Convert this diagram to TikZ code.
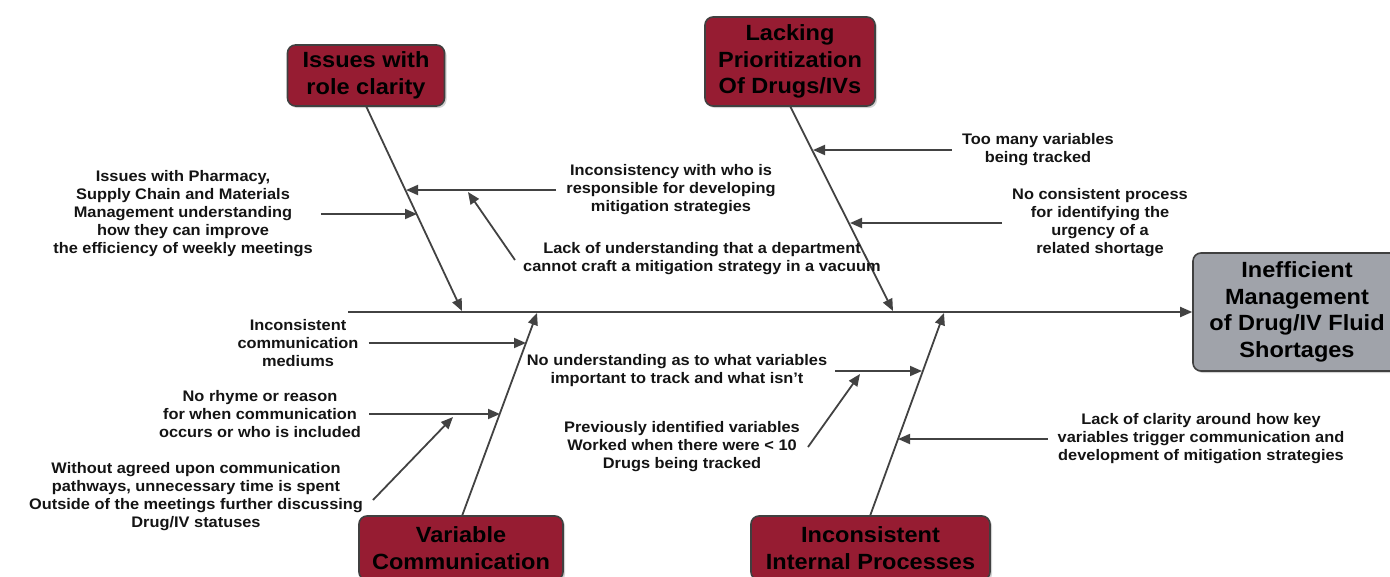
\documentclass[tikz,border=0pt]{standalone}
\usepackage{fontspec}
\setmainfont{Liberation Sans}[FakeStretch=1.07]
\usetikzlibrary{arrows.meta,shadows}
\definecolor{causered}{RGB}{150,28,50}
\definecolor{effgrey}{RGB}{160,163,170}
\definecolor{linegrey}{RGB}{66,66,66}
\definecolor{txt}{RGB}{20,20,20}
\begin{document}
\begin{tikzpicture}[x=1pt,y=-1pt,
  causebox/.style={draw=black!75, line width=1.6pt, rounded corners=8pt, fill=causered,
    drop shadow={shadow xshift=2pt,shadow yshift=-2pt,opacity=0.35},
    align=center, text=black, font=\bfseries\fontsize{22}{26.5}\selectfont, inner sep=0pt},
  effbox/.style={causebox, fill=effgrey},
  lbl/.style={align=center, text=txt, font=\bfseries\fontsize{15.3}{18}\selectfont, inner sep=0pt},
  arr/.style={draw=linegrey, line width=1.8pt, -{Triangle[length=12pt,width=10pt]}}
]
\useasboundingbox (0,0) rectangle (1390,576);

% effect and causes
\node[effbox, minimum width=208pt, minimum height=118pt] (eff) at (1297,312)
  {Inefficient\\Management\\of Drug/IV Fluid\\Shortages};
\node[causebox, minimum width=157pt, minimum height=61pt] (c1) at (366,75.5)
  {Issues with\\role clarity};
\node[causebox, minimum width=170pt, minimum height=89pt] (c2) at (790,61.5)
  {Lacking\\Prioritization\\Of Drugs/IVs};
\node[causebox, minimum width=204pt, minimum height=64pt] (c3) at (461,548)
  {Variable\\Communication};
\node[causebox, minimum width=239pt, minimum height=64pt] (c4) at (870.5,548)
  {Inconsistent\\Internal Processes};

% spine
\coordinate (tail) at (348,312);
\draw[arr] (tail) -- (eff.west);

% bone end points on the spine
\coordinate (s1) at (462,311);
\coordinate (s2) at (893,311);
\coordinate (s3) at (537,313);
\coordinate (s4) at (944,313);
\coordinate (o1) at (366,106);
\coordinate (o2) at (790,106);
\coordinate (o3) at (462,516);
\coordinate (o4) at (870,516);
\draw[arr] (o1) -- (s1);
\draw[arr] (o2) -- (s2);
\draw[arr] (o3) -- (s3);
\draw[arr] (o4) -- (s4);

% labels
\node[lbl] (tpharm) at (183,214) {Issues with Pharmacy,\\Supply Chain and Materials\\Management understanding\\how they can improve\\the efficiency of weekly meetings};
\node[lbl] (tincons) at (671,190) {Inconsistency with who is\\responsible for developing\\mitigation strategies};
\node[lbl] (tlack) at (702,259) {Lack of understanding that a department\\cannot craft a mitigation strategy in a vacuum};
\node[lbl] (ttoomany) at (1038,150) {Too many variables\\being tracked};
\node[lbl] (tnocons) at (1100,223) {No consistent process\\for identifying the\\urgency of a\\related shortage};
\node[lbl] (tmedium) at (298,343) {Inconsistent\\communication\\mediums};
\node[lbl] (trhyme) at (260,414) {No rhyme or reason\\for when communication\\occurs or who is included};
\node[lbl] (twithout) at (196,497) {Without agreed upon communication\\pathways, unnecessary time is spent\\Outside of the meetings further discussing\\Drug/IV statuses};
\node[lbl] (tnounder) at (677,371) {No understanding as to what variables\\important to track and what isn't};
\node[lbl] (tprev) at (682,447) {Previously identified variables\\Worked when there were < 10\\Drugs being tracked};
\node[lbl] (tclarity) at (1201,439) {Lack of clarity around how key\\variables trigger communication and\\development of mitigation strategies};

% sub-cause targets on bones
\coordinate (p1) at (406,190);
\coordinate (p2) at (417,214);
\coordinate (p3) at (813,150);
\coordinate (p4) at (850,223);
\coordinate (p5) at (526,343);
\coordinate (p6) at (500,414);
\coordinate (p7) at (922,371);
\coordinate (p8) at (898,439);

\draw[arr] ([xshift=-10pt]tincons.west) -- (p1);
\draw[arr] ([xshift=8pt]tpharm.east) -- (p2);
\draw[arr] ([xshift=-10pt]ttoomany.west) -- (p3);
\draw[arr] ([xshift=-10pt]tnocons.west) -- (p4);
\draw[arr] ([xshift=10pt]tmedium.east) -- (p5);
\draw[arr] ([xshift=8pt]trhyme.east) -- (p6);
\draw[arr] ([xshift=8pt]tnounder.east) -- (p7);
\draw[arr] ([xshift=-10pt]tclarity.west) -- (p8);

% diagonal sub-sub arrows
\coordinate (d1s) at (515,260);
\coordinate (d1e) at (468,192);
\coordinate (d2s) at (373,500);
\coordinate (d2e) at (453,417);
\coordinate (d3s) at (808,447);
\coordinate (d3e) at (860,374);
\draw[arr] (d1s) -- (d1e);
\draw[arr] (d2s) -- (d2e);
\draw[arr] (d3s) -- (d3e);
\end{tikzpicture}
\end{document}
